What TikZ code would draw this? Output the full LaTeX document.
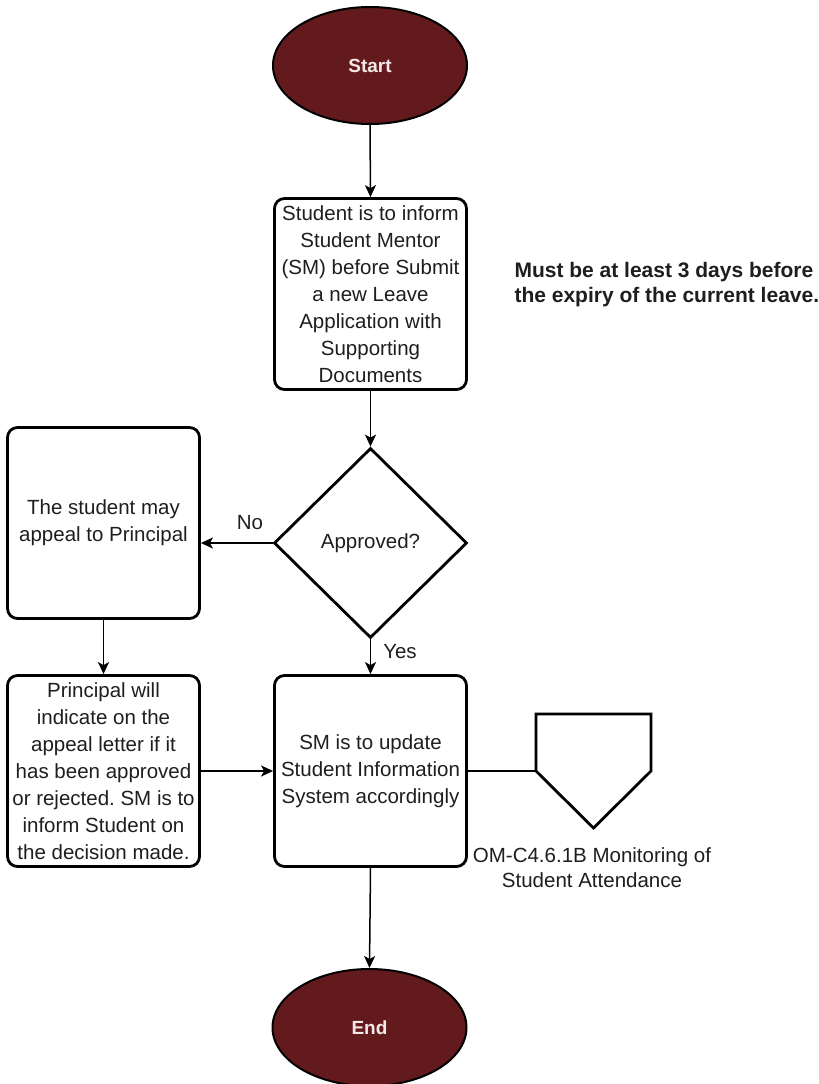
\documentclass[tikz,border=0pt]{standalone}
\usepackage{fontspec}
\setmainfont{Liberation Sans}
\usetikzlibrary{shapes.geometric,arrows.meta}
\definecolor{maroon}{HTML}{631A1D}
\definecolor{starttext}{HTML}{F3E8E8}
\definecolor{ink}{HTML}{1E1E1E}
\frenchspacing
\begin{document}
\begin{tikzpicture}[x=1pt,y=-1pt,
  txt/.style={font=\fontsize{20.5}{27}\selectfont, text=ink, align=center},
  terminal/.style={ellipse, draw=black, line width=2pt, fill=maroon, minimum width=194pt, minimum height=117pt, inner sep=0pt, text=starttext, font=\fontsize{19}{23}\selectfont\bfseries},
  procbox/.style={txt, draw=black, line width=2.8pt, rounded corners=10pt, minimum width=192pt, minimum height=191pt, inner sep=0pt},
  decision/.style={txt, diamond, draw=black, line width=2.8pt, minimum width=193pt, minimum height=190pt, inner sep=0pt},
  flow/.style={draw=black, line width=1.5pt, -{Stealth[length=12pt,width=11pt,inset=3pt]}},
  plainline/.style={draw=black, line width=1.5pt},
  offpagebox/.style={rectangle, draw=none, minimum width=115pt, minimum height=114pt, inner sep=0pt, outer sep=0pt},
  offpageline/.style={draw=black, line width=2.8pt, line join=miter}
]
\useasboundingbox (0,0) rectangle (819,1084);

\node[terminal] (start) at (370,65.5) {Start};
\node[procbox] (inform) at (370.5,294) {Student is to inform\\Student Mentor\\(SM) before Submit\\a new Leave\\Application with\\Supporting\\Documents};
\node[anchor=west, font=\fontsize{21}{25.5}\selectfont\bfseries, align=left, text=ink] (note) at (511,284.5) {Must be at least 3 days before\\the expiry of the current leave.};
\node[decision] (approved) at (370.5,543) {Approved?};
\node[procbox] (appeal) at (103.5,523) {The student may\\appeal to Principal};
\node[procbox] (principal) at (103.5,771) {Principal will\\indicate on the\\appeal letter if it\\has been approved\\or rejected. SM is to\\inform Student on\\the decision made.};
\node[procbox] (update) at (370.5,771) {SM is to update\\Student Information\\System accordingly};
\node[offpagebox] (offpage) at (593.5,771) {};
\draw[offpageline] (offpage.north west) -- (offpage.north east) -- (offpage.east) -- (offpage.south) -- (offpage.west) -- cycle;
\node[txt, font=\fontsize{20.5}{25}\selectfont] (omref) at (592,868) {OM-C4.6.1B Monitoring of\\Student Attendance};
\node[terminal] (end) at (369.5,1027.5) {End};

\draw[flow] (start.south) -- (inform.north);
\draw[flow] (inform.south) -- (approved.north);
\draw[flow] (approved.west) -- (approved.west -| appeal.east);
\node[txt] (nolbl) at (250,523) {No};
\draw[flow] (approved.south) -- (update.north);
\node[txt] (yeslbl) at (400,652) {Yes};
\draw[flow] (appeal.south) -- (principal.north);
\draw[flow] (principal.east) -- (update.west);
\draw[plainline] (update.east) -- (offpage.west);
\draw[flow] (update.south) -- (end.north);
\end{tikzpicture}
\end{document}
